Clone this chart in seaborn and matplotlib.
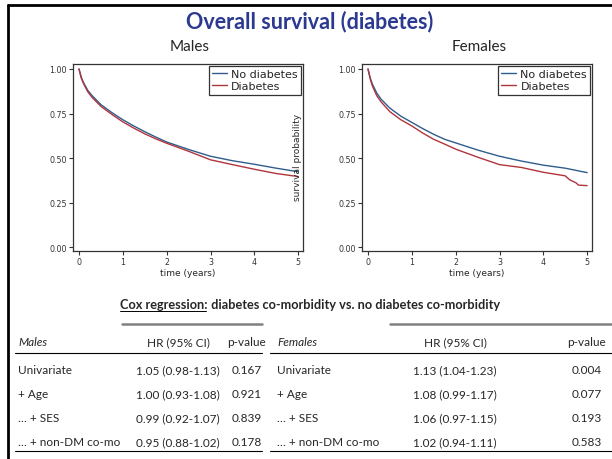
import numpy as np
import pandas as pd
import matplotlib
matplotlib.use("Agg")
import matplotlib.pyplot as plt
import seaborn as sns
from matplotlib.lines import Line2D

# survival curves
time_m = [0, 0.05, 0.1, 0.2, 0.3, 0.5, 0.75, 1.0, 1.25, 1.5, 1.75, 2.0, 2.5, 3.0, 3.5, 4.0, 4.5, 5.0]
males_no_dm = [1.0, 0.955, 0.925, 0.88, 0.85, 0.80, 0.755, 0.715, 0.68, 0.648, 0.618, 0.59, 0.548, 0.51, 0.485, 0.465, 0.443, 0.423]
males_dm = [1.0, 0.95, 0.92, 0.872, 0.84, 0.79, 0.745, 0.703, 0.668, 0.636, 0.608, 0.583, 0.538, 0.49, 0.463, 0.437, 0.413, 0.396]

time_f = [0, 0.05, 0.1, 0.2, 0.3, 0.5, 0.75, 1.0, 1.25, 1.5, 1.75, 2.0, 2.5, 3.0, 3.5, 4.0, 4.5, 5.0]
females_no_dm = [1.0, 0.95, 0.915, 0.865, 0.83, 0.78, 0.735, 0.70, 0.665, 0.633, 0.605, 0.585, 0.545, 0.51, 0.483, 0.46, 0.443, 0.418]
time_f_dm = [0, 0.05, 0.1, 0.2, 0.3, 0.5, 0.75, 1.0, 1.25, 1.5, 1.75, 2.0, 2.5, 3.0, 3.5, 4.0, 4.5, 4.6, 4.75, 4.8, 5.0]
females_dm = [1.0, 0.945, 0.905, 0.85, 0.815, 0.76, 0.715, 0.68, 0.64, 0.605, 0.578, 0.55, 0.505, 0.463, 0.447, 0.42, 0.40, 0.378, 0.36, 0.348, 0.345]

groups = ["No diabetes", "Diabetes"]
x_ticks = [0, 1, 2, 3, 4, 5]
y_ticks = [0.0, 0.25, 0.5, 0.75, 1.0]

# cox regression tables
row_labels = ["Univariate", "+ Age", "\u2026 + SES", "\u2026 + non-DM co-mo"]
males_hr = ["1.05 (0.98-1.13)", "1.00 (0.93-1.08)", "0.99 (0.92-1.07)", "0.95 (0.88-1.02)"]
males_p = ["0.167", "0.921", "0.839", "0.178"]
females_hr = ["1.13 (1.04-1.23)", "1.08 (0.99-1.17)", "1.06 (0.97-1.15)", "1.02 (0.94-1.11)"]
females_p = ["0.004", "0.077", "0.193", "0.583"]

sns.set_style("white")
plt.rcParams['font.family'] = ['DejaVu Sans']

W, H = 612, 460
fig = plt.figure(figsize=(W / 100, H / 100), dpi=100)


def fx(x):
    return x / W


def fy(y):
    return 1 - y / H


blue = "#2F5D8C"
red = "#B0343C"
palette = {"No diabetes": blue, "Diabetes": red}

curves = pd.concat([
    pd.DataFrame({"time": time_m, "surv": males_no_dm, "group": "No diabetes", "sex": "Males"}),
    pd.DataFrame({"time": time_m, "surv": males_dm, "group": "Diabetes", "sex": "Males"}),
    pd.DataFrame({"time": time_f, "surv": females_no_dm, "group": "No diabetes", "sex": "Females"}),
    pd.DataFrame({"time": time_f_dm, "surv": females_dm, "group": "Diabetes", "sex": "Females"}),
])

panels = [("Males", 73), ("Females", 362)]
for sex, left in panels:
    ax = fig.add_axes([fx(left), fy(252), 230 / W, 187 / H])
    sns.lineplot(data=curves[curves["sex"] == sex], x="time", y="surv", hue="group",
                 hue_order=groups, palette=palette, lw=1.0, ax=ax)
    ax.set_xlim(-0.137, 5.11)
    ax.set_ylim(-0.022, 1.028)
    ax.set_xticks(x_ticks)
    ax.set_yticks(y_ticks)
    ax.set_yticklabels([f"{v:.2f}" for v in y_ticks])
    ax.tick_params(axis="both", labelsize=5.7, length=3, width=0.8, colors="#333333",
                   direction="out", pad=1.5, bottom=True, left=True)
    ax.set_xlabel("time (years)", fontsize=6.5, labelpad=1)
    ax.set_ylabel("")
    for s in ax.spines.values():
        s.set_color("#333333")
        s.set_linewidth(0.9)
    leg = ax.legend(loc="upper right", fontsize=8, frameon=True, fancybox=False,
                    edgecolor="black", handlelength=1.3, handletextpad=0.4,
                    borderaxespad=0.15, borderpad=0.3, labelspacing=0.2)
    leg.get_frame().set_linewidth(0.9)
    fig.text(fx(left + 117), fy(47), sex, ha="center", va="center",
             fontsize=11, family=["Lato", "DejaVu Sans"])

# misplaced y label that sits on the males panel
fig.text(fx(297), fy(157), "survival probability", rotation=90, ha="center",
         va="center", fontsize=6.5)

# title
fig.text(fx(310), fy(22), "Overall survival (diabetes)", ha="center", va="center",
         fontsize=15.5, fontweight="bold", color="#2B3990", family=["Lato", "DejaVu Sans"])

# slide frame (top and left edge)
fig.add_artist(Line2D([fx(8), fx(612)], [fy(6), fy(6)], color="black", lw=2))
fig.add_artist(Line2D([fx(8), fx(8)], [fy(6), fy(460)], color="black", lw=2))

# subtitle with underlined first part
tfont = ["Lato", "DejaVu Sans"]
renderer = fig.canvas.get_renderer()
part1 = "Cox regression:"
part2 = " diabetes co-morbidity vs. no diabetes co-morbidity"
t1 = fig.text(0, fy(305), part1, fontsize=9.2, fontweight="bold", family=tfont, va="center")
t2 = fig.text(0, fy(305), part2, fontsize=9.2, fontweight="bold", family=tfont, va="center")
w1 = t1.get_window_extent(renderer).width
w2 = t2.get_window_extent(renderer).width
x0 = 310 - (w1 + w2) / 2
t1.set_x(fx(x0))
t2.set_x(fx(x0 + w1))
fig.add_artist(Line2D([fx(x0), fx(x0 + w1 - 2)], [fy(311.5), fy(311.5)], color="black", lw=0.7))


def draw_table(title, hr, pv, lab_x, hr_x, p_x, gray_x0, line_x0, line_x1):
    fs = 8.5
    fig.add_artist(Line2D([fx(gray_x0), fx(line_x1)], [fy(325), fy(325)], color="#808080", lw=1.8))
    fig.text(fx(lab_x), fy(343), title, fontsize=fs, style="italic", family=tfont, va="center")
    fig.text(fx(hr_x), fy(343), "HR (95% CI)", fontsize=fs, family=tfont, va="center", ha="center")
    fig.text(fx(p_x), fy(343), "p-value", fontsize=fs, family=tfont, va="center", ha="center")
    fig.add_artist(Line2D([fx(line_x0), fx(line_x1)], [fy(354), fy(354)], color="black", lw=0.8))
    for i, (lab, h, p) in enumerate(zip(row_labels, hr, pv)):
        y = 371 + i * 24
        fig.text(fx(lab_x), fy(y), lab, fontsize=fs, family=tfont, va="center")
        fig.text(fx(hr_x), fy(y), h, fontsize=fs, family=tfont, va="center", ha="center")
        fig.text(fx(p_x), fy(y), p, fontsize=fs, family=tfont, va="center", ha="center")
    fig.add_artist(Line2D([fx(line_x0), fx(line_x1)], [fy(452), fy(452)], color="black", lw=0.8))


draw_table("Males", males_hr, males_p, 18, 178, 247, 122, 15, 262)
draw_table("Females", females_hr, females_p, 277, 455, 587, 390, 270, 612)

fig.savefig("out.png", dpi=100)
